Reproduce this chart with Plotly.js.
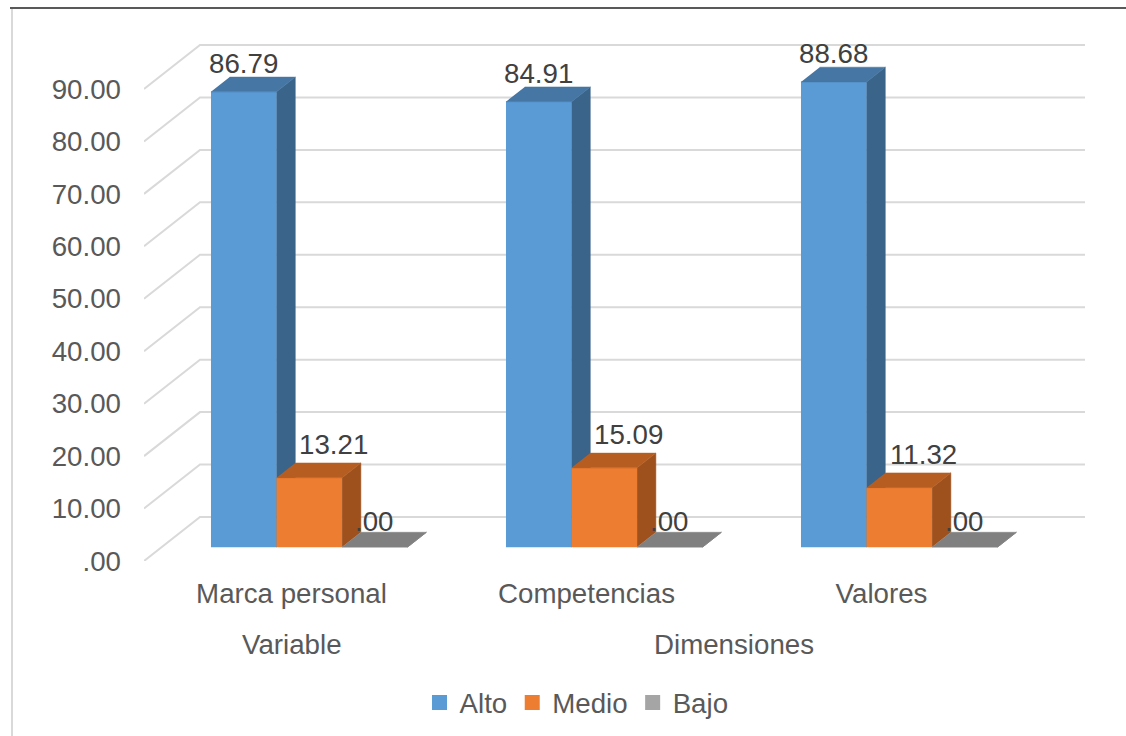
<!DOCTYPE html>
<html>
<head>
<meta charset="utf-8">
<script src="https://cdn.plot.ly/plotly-3.0.1.min.js"></script>
<style>html,body{margin:0;padding:0;background:#fff;}#chart{width:1126px;height:736px;}</style>
</head>
<body>
<div id="chart"></div>
<script>
// ---- data ----
const categories = ['Marca personal', 'Competencias', 'Valores'];
const groupNames = ['Variable', 'Dimensiones'];
const groupFirst = [0, 1];
const groupLast = [0, 2];
const seriesNames = ['Alto', 'Medio', 'Bajo'];
const alto = [86.79, 84.91, 88.68];
const medio = [13.21, 15.09, 11.32];
const bajo = [0.00, 0.00, 0.00];
const yTickVals = [0, 10, 20, 30, 40, 50, 60, 70, 80, 90];
const yTickText = ['.00', '10.00', '20.00', '30.00', '40.00', '50.00', '60.00', '70.00', '80.00', '90.00'];

// ---- style / layout ----
const W = 1126, H = 736;
const M = {l: 144, r: 39, t: 43, b: 175};
const plotW = W - M.l - M.r, plotH = H - M.t - M.b;
const pxPerCat = 295;             // pixels per category on the axis
const pxPerUnit = 472 / 90;       // pixels per value unit
const xRange = [0, plotW / pxPerCat];
const yRange = [0, plotH / pxPerUnit];
const wallDxPx = 56, wallDyPx = 44;      // depth of the 3D floor in pixels
const barFrontDepth = 14 / 44, barBackDepth = 14 / 44 + 0.335;
const gapHalf = 1 / 6, barW = 2 / 9;      // gap width 150%
const frontCol = ['#5B9BD5', '#ED7D31', '#A5A5A5'];
const sideCol = ['#3A6489', '#9E511D', '#6F6F6F'];
const topCol = ['#4676A3', '#B65E22', '#808080'];
const labelXShift = [0, 24, 0];
const labelYShift = [-4, 1, -7];
const txtCol = '#595959', lblCol = '#404040';
const FONT = 'Liberation Sans, Arial, sans-serif';
const FS = 27.7;

const depthX = d => d * wallDxPx / pxPerCat;
const depthY = d => d * wallDyPx / pxPerUnit;
const nCat = categories.length;
const seriesVals = [alto, medio, bajo];

const traces = [];

// back wall grid lines with diagonal floor edges
const gx = [], gy = [];
yTickVals.forEach(v => {
  gx.push(0, depthX(1), nCat + depthX(1), null);
  gy.push(v, v + depthY(1), v + depthY(1), null);
});
traces.push({type: 'scatter', mode: 'lines', x: gx, y: gy, line: {color: '#D9D9D9', width: 2},
  hoverinfo: 'skip', showlegend: false});

const px2paperX = px => (px - M.l) / plotW;
const py2paperY = py => (M.t + plotH - py) / plotH;

const annotations = [];
seriesVals.forEach((vals, s) => {
  const front = {x: [], y: []}, side = {x: [], y: []}, top = {x: [], y: []};
  const bx = depthX(barBackDepth - barFrontDepth), by = depthY(barBackDepth - barFrontDepth);
  vals.forEach((v, i) => {
    const x0 = i + gapHalf + s * barW + depthX(barFrontDepth);
    const x1 = x0 + barW;
    const y0 = depthY(barFrontDepth);
    const y1 = y0 + v;
    front.x.push(x0, x1, x1, x0, null); front.y.push(y0, y0, y1, y1, null);
    side.x.push(x1, x1 + bx, x1 + bx, x1, null); side.y.push(y0, y0 + by, y1 + by, y1, null);
    top.x.push(x0, x1, x1 + bx, x0 + bx, null); top.y.push(y1, y1, y1 + by, y1 + by, null);
    annotations.push({
      x: (x0 + x1) / 2, y: y1 + by, xref: 'x', yref: 'y',
      text: v.toFixed(2).replace(/^0\./, '.'), showarrow: false,
      xanchor: 'center', yanchor: 'bottom', xshift: labelXShift[s], yshift: labelYShift[s],
      font: {family: FONT, size: FS, color: lblCol}
    });
  });
  [[front, frontCol[s]], [side, sideCol[s]], [top, topCol[s]]].forEach(([p, c]) => {
    traces.push({type: 'scatter', mode: 'lines', x: p.x, y: p.y, fill: 'toself', fillcolor: c,
      line: {color: c, width: 0.5}, hoverinfo: 'skip', showlegend: false});
  });
});

// legend entries
seriesNames.forEach((n, s) => {
  traces.push({type: 'scatter', mode: 'markers', x: [null], y: [null], name: n,
    marker: {symbol: 'square', size: 15, color: frontCol[s]}, hoverinfo: 'skip'});
});

// second-level category labels
groupNames.forEach((g, k) => {
  annotations.push({
    x: (groupFirst[k] + groupLast[k] + 1) / 2, y: py2paperY(644),
    xref: 'x', yref: 'paper', text: g, showarrow: false, xanchor: 'center', yanchor: 'middle',
    font: {family: FONT, size: FS, color: txtCol}
  });
});

const layout = {
  width: W, height: H,
  margin: M,
  paper_bgcolor: '#ffffff', plot_bgcolor: 'rgba(0,0,0,0)',
  font: {family: FONT, size: FS, color: txtCol},
  showlegend: true,
  legend: {orientation: 'h', xref: 'container', yref: 'container', x: 0.512, y: 1 - 703 / H,
    xanchor: 'center', yanchor: 'middle', font: {family: FONT, size: FS, color: txtCol},
    bgcolor: 'rgba(0,0,0,0)', itemwidth: 30, tracegroupgap: 0},
  xaxis: {range: xRange, showgrid: false, zeroline: false, showline: false, ticks: '',
    tickmode: 'array', tickvals: categories.map((c, i) => i + 0.5), ticktext: categories,
    ticklabelstandoff: 13, tickfont: {family: FONT, size: FS, color: txtCol}, fixedrange: true},
  yaxis: {range: yRange, showgrid: false, zeroline: false, showline: false, ticks: '',
    tickmode: 'array', tickvals: yTickVals, ticktext: yTickText, ticklabelstandoff: 22,
    tickfont: {family: FONT, size: FS, color: txtCol}, fixedrange: true},
  annotations: annotations,
  shapes: [
    {type: 'line', xref: 'paper', yref: 'paper', x0: px2paperX(10), x1: px2paperX(1126),
      y0: py2paperY(8), y1: py2paperY(8), line: {color: '#595959', width: 2}},
    {type: 'line', xref: 'paper', yref: 'paper', x0: px2paperX(12), x1: px2paperX(12),
      y0: py2paperY(9), y1: py2paperY(736), line: {color: '#D9D9D9', width: 2}}
  ]
};

Plotly.newPlot('chart', traces, layout, {displayModeBar: false, staticPlot: true});
</script>
</body>
</html>
